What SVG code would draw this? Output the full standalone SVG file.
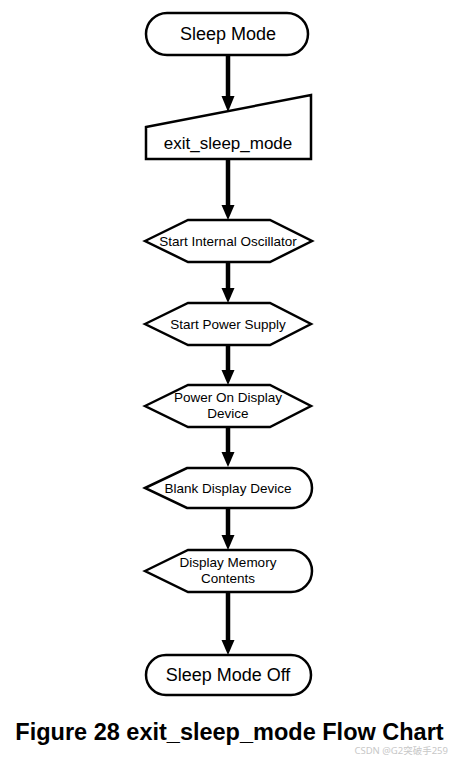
<svg xmlns="http://www.w3.org/2000/svg" width="459" height="758" viewBox="0 0 459 758">
<style>
.s{fill:#fff;stroke:#000;stroke-width:2.5;stroke-linejoin:miter}
.t{font-family:"Liberation Sans",Arial,sans-serif;fill:#000;text-anchor:middle}
.big{font-size:18px}
.sm{font-size:13.5px}
.c{stroke:#000;stroke-width:4.5;fill:none}
.h{fill:#000;stroke:none}
</style>
<rect width="459" height="758" fill="#fff"/>
<g id="connectors">
<line class="c" x1="228" y1="55" x2="228" y2="98"/><polygon class="h" points="221.5,96 234.5,96 228,112"/>
<line class="c" x1="228" y1="159" x2="228" y2="207"/><polygon class="h" points="221.5,205 234.5,205 228,220"/>
<line class="c" x1="228" y1="262" x2="228" y2="290"/><polygon class="h" points="221.5,288 234.5,288 228,303"/>
<line class="c" x1="228" y1="345" x2="228" y2="372"/><polygon class="h" points="221.5,370 234.5,370 228,385"/>
<line class="c" x1="228" y1="427" x2="228" y2="454"/><polygon class="h" points="221.5,452 234.5,452 228,467"/>
<line class="c" x1="228" y1="508" x2="228" y2="537"/><polygon class="h" points="221.5,535 234.5,535 228,550"/>
<line class="c" x1="228" y1="592" x2="228" y2="642"/><polygon class="h" points="221.5,640 234.5,640 228,655"/>
</g>
<g id="sleep_mode">
<rect class="s" x="146" y="13" width="162" height="42" rx="21"/>
<text class="t big" x="228" y="40">Sleep Mode</text>
</g>
<g id="exit_sleep_mode">
<polygon class="s" points="146,127 311,95 311,159 146,159"/>
<text class="t" style="font-size:17px" x="228" y="149">exit_sleep_mode</text>
</g>
<g id="start_osc">
<polygon class="s" points="145,241 188,220 270,220 312,241 270,262 188,262"/>
<text class="t sm" x="228" y="246">Start Internal Oscillator</text>
</g>
<g id="start_power">
<polygon class="s" points="145,324 188,303 270,303 311,324 270,345 188,345"/>
<text class="t sm" x="228" y="329">Start Power Supply</text>
</g>
<g id="power_on">
<polygon class="s" points="145,406 188,385 270,385 311,406 270,427 188,427"/>
<text class="t sm" x="228" y="402">Power On Display</text>
<text class="t sm" x="228" y="418">Device</text>
</g>
<g id="blank_display">
<path class="s" d="M145,488 L187,468 L292,468 A20,20 0 0 1 292,508 L187,508 Z"/>
<text class="t sm" x="228" y="493">Blank Display Device</text>
</g>
<g id="display_memory">
<path class="s" d="M145,571 L188,550 L291,550 A21,21 0 0 1 291,592 L188,592 Z"/>
<text class="t sm" x="228" y="567">Display Memory</text>
<text class="t sm" x="228" y="583">Contents</text>
</g>
<g id="sleep_mode_off">
<rect class="s" x="146" y="655" width="165" height="40" rx="20"/>
<text class="t big" x="228" y="681">Sleep Mode Off</text>
</g>
<text class="t" style="font-size:23.5px;font-weight:bold" x="229.5" y="740">Figure 28 exit_sleep_mode Flow Chart</text>
<text style="font-family:'Noto Sans','Noto Sans CJK SC',sans-serif;font-size:9.5px;fill:#c8c8c8;text-anchor:end" x="448" y="754">CSDN @G2突破手259</text>
</svg>
